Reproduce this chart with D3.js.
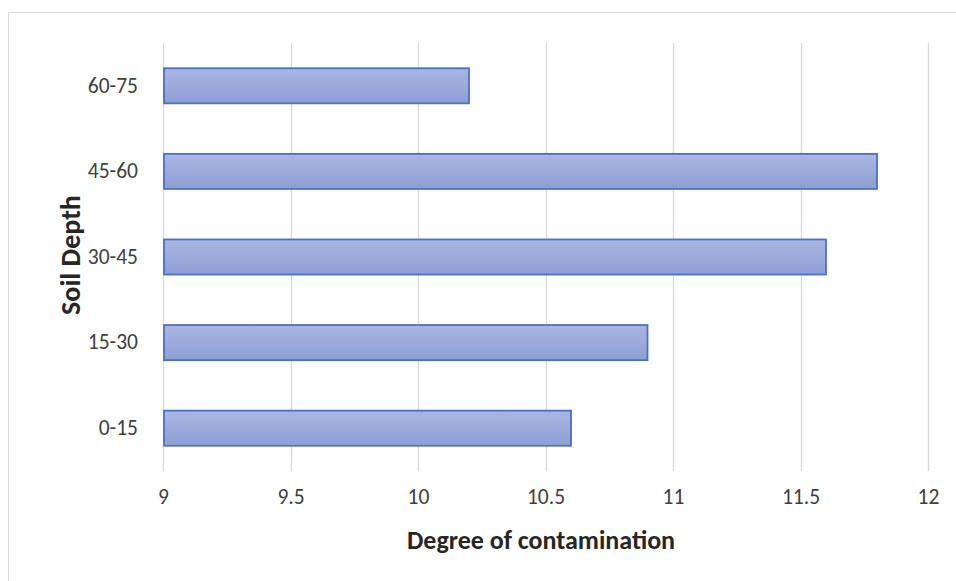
<!DOCTYPE html>
<html><head><meta charset="utf-8">
<script src="https://cdn.jsdelivr.net/npm/d3@7/dist/d3.min.js"></script>
<style>body{margin:0;background:#fff;} svg{display:block;font-family:Calibri,Carlito,Lato,"Open Sans","Noto Sans",sans-serif;}</style>
</head><body>
<svg id="c" width="956" height="581"></svg>
<script>
const categories = ["0-15","15-30","30-45","45-60","60-75"];
const values = [10.6, 10.9, 11.6, 11.8, 10.2];
const xTicks = [9, 9.5, 10, 10.5, 11, 11.5, 12];
const xTitle = "Degree of contamination";
const yTitle = "Soil Depth";

const svg = d3.select("#c");
const m = {left:163, right:28, top:43, bottom:110};
const W = 956, H = 581;

svg.append("rect").attr("x",8.5).attr("y",12.5).attr("width",W-8).attr("height",H).attr("fill","#fff").attr("stroke","#d9d9d9");

const x = d3.scaleLinear().domain([9,12]).range([m.left, W-m.right]);
const y = d3.scaleBand().domain(categories.slice().reverse()).range([m.top, H-m.bottom]).paddingInner(0.59).paddingOuter(0.295);

const defs = svg.append("defs");
const g = defs.append("linearGradient").attr("id","bg").attr("x1",0).attr("y1",0).attr("x2",0).attr("y2",1);
g.append("stop").attr("offset","0%").attr("stop-color","#aab5e2");
g.append("stop").attr("offset","100%").attr("stop-color","#8e9fd6");

// gridlines
svg.append("g").selectAll("line").data(xTicks).join("line")
  .attr("x1",d=>Math.round(x(d))+0.5).attr("x2",d=>Math.round(x(d))+0.5)
  .attr("y1",m.top).attr("y2",H-m.bottom)
  .attr("stroke","#d9d9d9").attr("stroke-width",1.3);

// bars
svg.append("g").selectAll("rect").data(categories.map((c,i)=>({c,v:values[i]}))).join("rect")
  .attr("x",x(9)+1).attr("y",d=>y(d.c))
  .attr("width",d=>x(d.v)-x(9)-1).attr("height",y.bandwidth())
  .attr("fill","url(#bg)").attr("stroke","#4a72c4").attr("stroke-width",1.8);

const tf = "Calibri,Carlito,Lato,'Open Sans',sans-serif";
// x axis labels
const xAxis = d3.axisBottom(x).tickValues(xTicks).tickSize(0).tickPadding(0).tickFormat(d3.format("~g"));
const xa = svg.append("g").attr("transform",`translate(0,489)`).call(xAxis);
xa.select(".domain").remove();
xa.selectAll("text").attr("font-size",21.5).attr("fill","#404040").attr("font-family",tf);

// y axis labels
const yAxis = d3.axisLeft(y).tickSize(0).tickPadding(25);
const ya = svg.append("g").attr("transform",`translate(${m.left},0)`).call(yAxis);
ya.select(".domain").remove();
ya.selectAll("text").attr("font-size",21.5).attr("fill","#404040").attr("font-family",tf);

svg.append("text").attr("x",541).attr("y",549).attr("text-anchor","middle")
  .attr("font-size",26).attr("font-weight","bold").attr("fill","#262626").text(xTitle);
svg.append("text").attr("transform",`translate(80,255) rotate(-90)`).attr("text-anchor","middle")
  .attr("font-size",28).attr("font-weight","bold").attr("fill","#262626").text(yTitle);
</script>
</body></html>
